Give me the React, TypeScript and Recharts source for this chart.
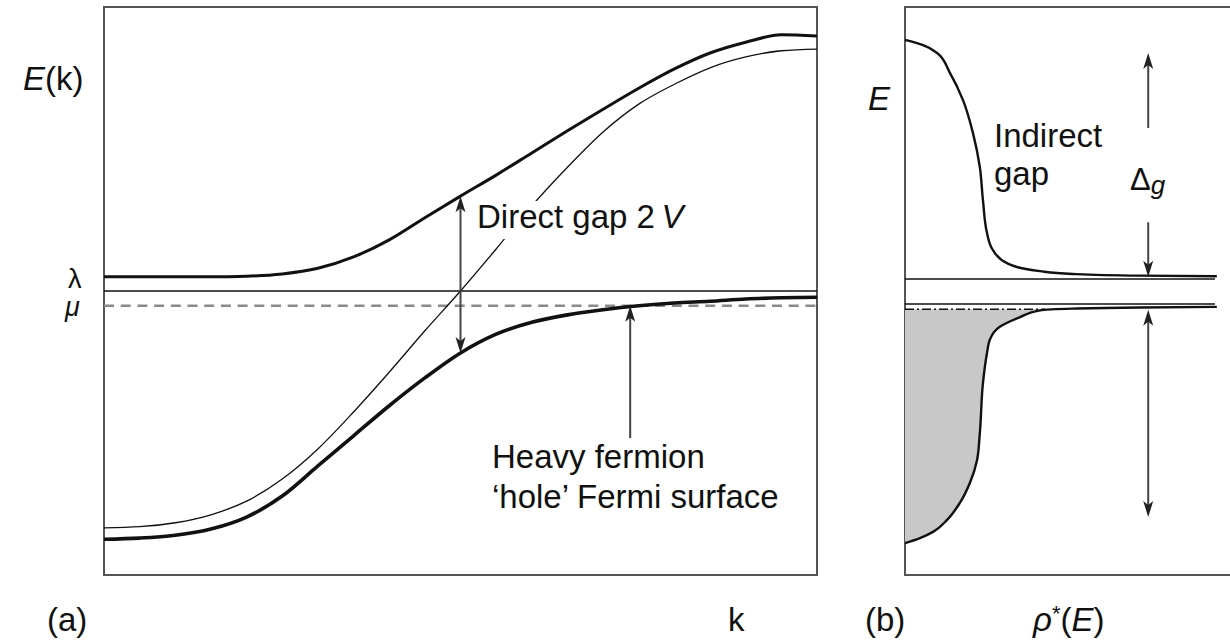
import {
  Area,
  ComposedChart,
  Line,
  ReferenceArea,
  ReferenceLine,
  XAxis,
  YAxis
} from "recharts"

// (a) band structure E(k), arbitrary units: box spans k 0..10, E 0..10
const kGrid = [0, 0.5, 1, 1.5, 2, 2.5, 3, 3.5, 4, 4.5, 5, 5.5, 6, 6.5, 7, 7.5, 8, 8.5, 9, 9.5, 10]
const upperBand = [5.25, 5.25, 5.25, 5.25, 5.26, 5.3, 5.4, 5.6, 5.9, 6.29, 6.67, 7.04, 7.43, 7.82, 8.2, 8.57, 8.91, 9.19, 9.38, 9.51, 9.49]
const lowerBand = [0.63, 0.65, 0.7, 0.81, 1.02, 1.39, 1.92, 2.45, 2.98, 3.47, 3.91, 4.24, 4.45, 4.58, 4.67, 4.74, 4.79, 4.82, 4.86, 4.88, 4.89]
const bareBand = [0.83, 0.85, 0.92, 1.06, 1.3, 1.69, 2.22, 2.87, 3.57, 4.3, 5.0, 5.74, 6.5, 7.18, 7.8, 8.29, 8.64, 8.93, 9.12, 9.23, 9.26]
const lambdaLevel = 5.0
const muLevel = 4.74
const gapK = 5
const fermiK = 7.38
const fermiTail = 2.41
const fermiTip = 4.74

// (b) density of states rho*(E), same energy units, rho 0..11
const dosUpperRho = [0, 0.58, 1.03, 1.44, 1.86, 2.18, 2.4, 2.5, 2.63, 2.82, 3.27, 4.33, 5.38, 7.53, 10.0]
const dosUpperE = [9.42, 9.33, 9.19, 8.84, 8.36, 7.78, 7.18, 6.6, 6.02, 5.72, 5.49, 5.35, 5.3, 5.27, 5.26]
const dosLowerRho = [0, 0.48, 0.9, 1.35, 1.76, 2.08, 2.31, 2.4, 2.5, 2.63, 2.72, 3.04, 3.69, 4.33, 5.38, 7.53, 10.0]
const dosLowerE = [0.56, 0.65, 0.76, 0.97, 1.27, 1.62, 2.02, 2.5, 3.38, 3.91, 4.14, 4.37, 4.54, 4.66, 4.69, 4.71, 4.72]
const gapTop = 5.21
const gapBottom = 4.77
const muB = 4.68
const muMeetRho = 4.5
const levelEnd = 9.94
const arrowRho = 7.8
const deltaUp = [7.87, 9.19]
const deltaDown = [6.21, 5.25]
const bandWidth = [4.67, 1.02]

const bandRows = kGrid.map((k, i) => ({
  k,
  upper: upperBand[i],
  lower: lowerBand[i],
  bare: bareBand[i]
}))
const dosUpper = dosUpperRho.map((rho, i) => ({ rho, E: dosUpperE[i] }))
const dosLower = dosLowerRho.map((rho, i) => ({ rho, E: dosLowerE[i] }))
const dosFill = [...dosLower.filter(d => d.E <= muB), { rho: muMeetRho, E: muB }]

const frame = "#555"
const ink = "#111"

const arrowShape = (heads: "end" | "both") => (p: any) => {
  const { x1, y1, x2, y2 } = p
  const len = Math.hypot(x2 - x1, y2 - y1) || 1
  const ux = (x2 - x1) / len
  const uy = (y2 - y1) / len
  const hl = 16
  const hw = 5
  const head = (tx: number, ty: number, dx: number, dy: number) => {
    const bx = tx - dx * hl
    const by = ty - dy * hl
    const nx = -dy * hw
    const ny = dx * hw
    const mx = tx - dx * hl * 0.75
    const my = ty - dy * hl * 0.75
    return (
      <polygon
        points={`${tx},${ty} ${bx + nx},${by + ny} ${mx},${my} ${bx - nx},${by - ny}`}
        fill="#222"
      />
    )
  }
  const sx = heads === "both" ? x1 + ux * hl * 0.7 : x1
  const sy = heads === "both" ? y1 + uy * hl * 0.7 : y1
  return (
    <g>
      <line
        x1={sx}
        y1={sy}
        x2={x2 - ux * hl * 0.7}
        y2={y2 - uy * hl * 0.7}
        stroke="#444"
        strokeWidth={2}
      />
      {head(x2, y2, ux, uy)}
      {heads === "both" && head(x1, y1, -ux, -uy)}
    </g>
  )
}

const BandPanel = () => (
  <ComposedChart
    width={733}
    height={588}
    data={bandRows}
    margin={{ top: 10, right: 10, bottom: 10, left: 10 }}
  >
    <XAxis type="number" dataKey="k" domain={[0, 10]} hide />
    <YAxis type="number" domain={[0, 10]} hide />
    <ReferenceArea x1={0} x2={10} y1={0} y2={10} fill="none" stroke={frame} strokeWidth={2} />
    <ReferenceLine y={lambdaLevel} stroke={ink} strokeWidth={1.5} />
    <ReferenceLine y={muLevel} stroke="#8a8a8a" strokeWidth={2.5} strokeDasharray="10 6.7" />
    <Line dataKey="bare" type="monotone" stroke={ink} strokeWidth={1.3} dot={false} isAnimationActive={false} />
    <Line dataKey="upper" type="monotone" stroke={ink} strokeWidth={3} dot={false} isAnimationActive={false} />
    <Line dataKey="lower" type="monotone" stroke={ink} strokeWidth={3.6} dot={false} isAnimationActive={false} />
    <ReferenceLine
      segment={[
        { x: gapK, y: upperBand[kGrid.indexOf(gapK)] },
        { x: gapK, y: lowerBand[kGrid.indexOf(gapK)] }
      ]}
      shape={arrowShape("both")}
    />
    <ReferenceLine
      segment={[
        { x: fermiK, y: fermiTail },
        { x: fermiK, y: fermiTip }
      ]}
      shape={arrowShape("end")}
    />
  </ComposedChart>
)

const DosPanel = () => (
  <ComposedChart
    layout="vertical"
    width={363}
    height={588}
    margin={{ top: 10, right: 10, bottom: 10, left: 10 }}
  >
    <XAxis type="number" domain={[0, 11]} hide />
    <YAxis type="number" dataKey="E" domain={[0, 10]} reversed hide />
    <ReferenceArea x1={0} x2={11} y1={0} y2={10} fill="none" stroke={frame} strokeWidth={2} />
    <Area
      data={dosFill}
      dataKey="rho"
      type="monotone"
      fill="#c8c8c8"
      fillOpacity={1}
      stroke="none"
      isAnimationActive={false}
    />
    <ReferenceLine segment={[{ x: 0, y: gapTop }, { x: levelEnd, y: gapTop }]} stroke={ink} strokeWidth={1.5} />
    <ReferenceLine segment={[{ x: 0, y: gapBottom }, { x: levelEnd, y: gapBottom }]} stroke={ink} strokeWidth={1.5} />
    <ReferenceLine
      segment={[{ x: 0, y: muB }, { x: muMeetRho, y: muB }]}
      stroke={ink}
      strokeWidth={1.4}
      strokeDasharray="9 3 2 3"
    />
    <Line data={dosUpper} dataKey="rho" type="monotone" stroke={ink} strokeWidth={2.4} dot={false} isAnimationActive={false} />
    <Line data={dosLower} dataKey="rho" type="monotone" stroke={ink} strokeWidth={2.4} dot={false} isAnimationActive={false} />
    <ReferenceLine segment={[{ x: arrowRho, y: deltaUp[0] }, { x: arrowRho, y: deltaUp[1] }]} shape={arrowShape("end")} />
    <ReferenceLine segment={[{ x: arrowRho, y: deltaDown[0] }, { x: arrowRho, y: deltaDown[1] }]} shape={arrowShape("end")} />
    <ReferenceLine segment={[{ x: arrowRho, y: bandWidth[0] }, { x: arrowRho, y: bandWidth[1] }]} shape={arrowShape("both")} />
  </ComposedChart>
)

const App = () => {
  return (
    <div
      style={{
        position: "absolute",
        left: 0,
        top: 0,
        width: 1230,
        height: 644,
        overflow: "hidden",
        background: "#fff"
      }}
    >
      <div style={{ position: "absolute", left: 94, top: -3 }}>
        <BandPanel />
      </div>
      <div style={{ position: "absolute", left: 895, top: -3 }}>
        <DosPanel />
      </div>
      <svg
        width={1230}
        height={644}
        style={{ position: "absolute", left: 0, top: 0, pointerEvents: "none" }}
        fontFamily="Liberation Sans, Arial, Helvetica, sans-serif"
        fontSize={33}
        fill={ink}
      >
        <text x={23} y={90}>
          <tspan fontStyle="italic">E</tspan>(k)
        </text>
        <text x={68} y={288} fontSize={27}>λ</text>
        <text x={65} y={316} fontSize={27} fontStyle="italic">μ</text>
        <rect x={474} y={201} width={210} height={38} fill="#fff" />
        <text x={477} y={228}>
          Direct gap 2{"\u2009"}<tspan fontStyle="italic">V</tspan>
        </text>
        <text x={492} y={468}>Heavy fermion</text>
        <text x={492} y={508}>‘hole’ Fermi surface</text>
        <text x={728} y={631}>k</text>
        <text x={47} y={631}>(a)</text>
        <text x={868} y={110} fontStyle="italic">E</text>
        <text x={994} y={147}>Indirect</text>
        <text x={994} y={185}>gap</text>
        <text x={1130} y={190} fontSize={31}>
          Δ<tspan fontStyle="italic" fontSize={26} dy={4}>g</tspan>
        </text>
        <text x={865} y={631}>(b)</text>
        <text x={1033} y={631}>
          <tspan fontStyle="italic">ρ</tspan>
          <tspan fontSize={22} dy={-10}>*</tspan>
          <tspan dy={10}>(</tspan>
          <tspan fontStyle="italic">E</tspan>)
        </text>
      </svg>
    </div>
  )
}

export default App
